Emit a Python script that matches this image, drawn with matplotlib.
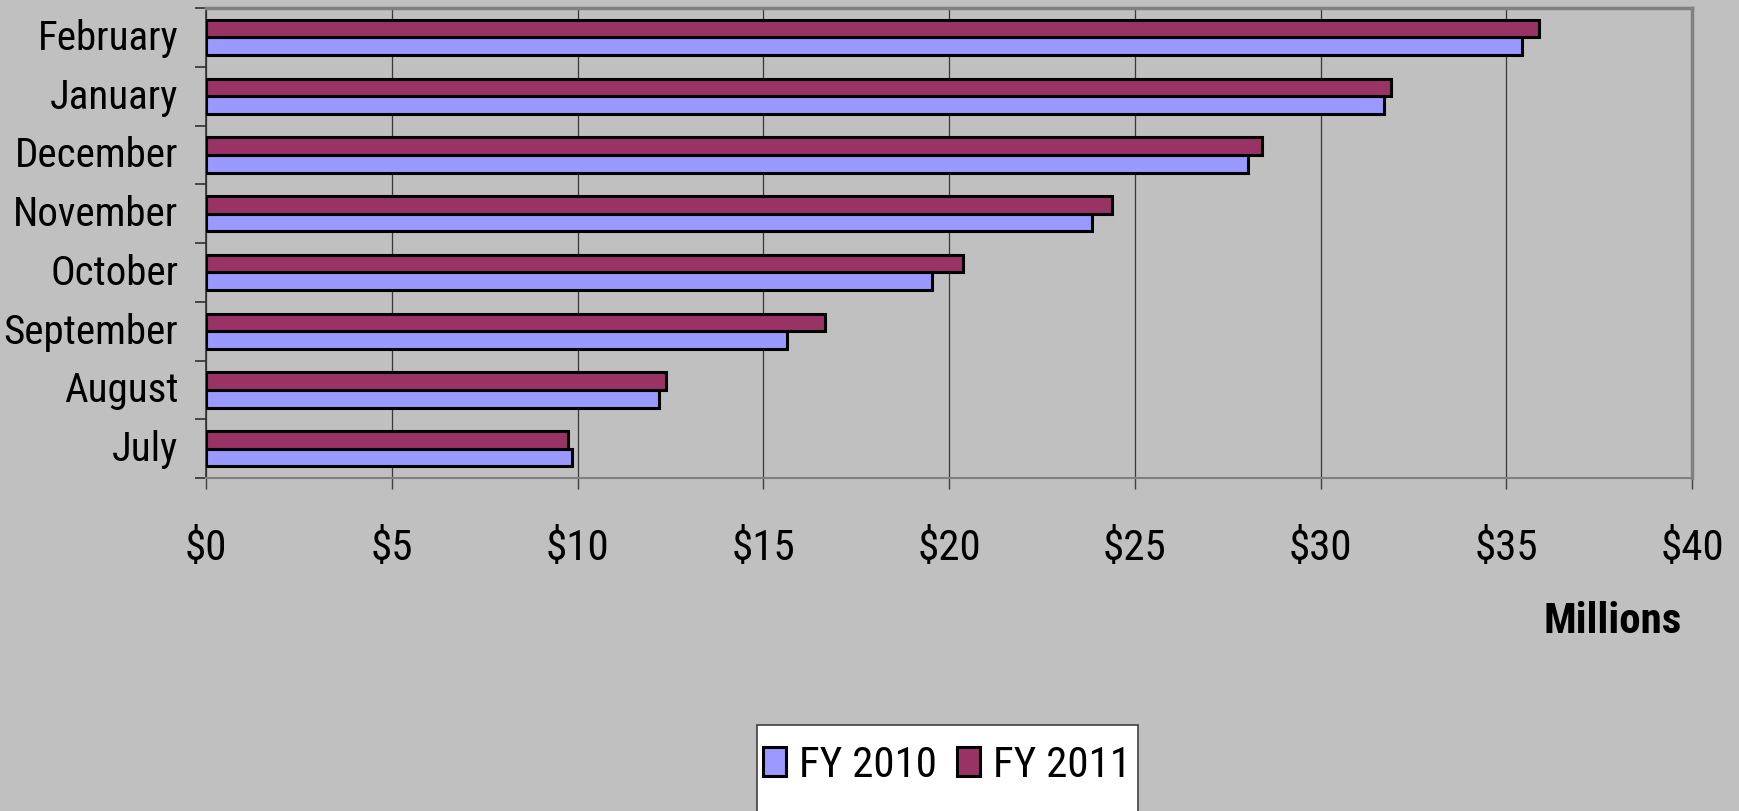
import matplotlib
matplotlib.use("Agg")
import matplotlib.pyplot as plt
from matplotlib import font_manager
from matplotlib.patches import Rectangle
import numpy as np

# datos (millones de dólares)
months = ["July", "August", "September", "October", "November", "December", "January", "February"]
fy2010 = [9.84, 12.2, 15.65, 19.55, 23.84, 28.06, 31.72, 35.43]
fy2011 = [9.75, 12.38, 16.65, 20.38, 24.39, 28.43, 31.89, 35.87]
xticks = [0, 5, 10, 15, 20, 25, 30, 35, 40]

# fuente estrecha tipo Arial Narrow, si existe
names = {f.name for f in font_manager.fontManager.ttflist}
fam = "Liberation Sans"
for cand in ["Liberation Sans Narrow", "Arial Narrow", "Roboto Condensed", "Archivo Narrow"]:
    if cand in names:
        fam = cand
        break
narrow = fam != "Liberation Sans"
fs = 31 if narrow else 26
fs_y = 29.5 if narrow else 25
plt.rcParams["font.family"] = [fam, "DejaVu Sans"]

bg = "#C0C0C0"
fig = plt.figure(figsize=(17.4, 8.12), dpi=100, facecolor=bg)
ax = fig.add_axes([206 / 1740, 1 - 479 / 812, (1692 - 206) / 1740, (479 - 9) / 812])
ax.set_facecolor(bg)

y = np.arange(len(months))
h = 0.3
ax.barh(y - h / 2, fy2010, height=h, color="#9999FF", edgecolor="black", linewidth=2.2, label="FY 2010", zorder=3)
ax.barh(y + h / 2, fy2011, height=h, color="#993366", edgecolor="black", linewidth=2.2, label="FY 2011", zorder=3)

ax.set_xlim(0, 40)
ax.set_ylim(-0.5, len(months) - 0.5)
ax.set_xticks(xticks)
ax.set_xticklabels(["$%d" % v for v in xticks], fontsize=fs)
ax.set_yticks(y)
ax.set_yticklabels(months, fontsize=fs_y, va="center")
ax.set_yticks(np.arange(len(months) + 1) - 0.5, minor=True)
ax.tick_params(axis="y", which="major", length=0, pad=20)
ax.tick_params(axis="y", which="minor", length=8, width=1.2, color="#303030", direction="out")
ax.tick_params(axis="x", length=8, width=1, color="#404040", direction="out", pad=27)

ax.grid(axis="x", color="#383838", linewidth=0.9, zorder=0)
for s in ["top", "right"]:
    ax.spines[s].set_color("#808080")
    ax.spines[s].set_linewidth(2.5)
ax.spines["left"].set_color("#303030")
ax.spines["bottom"].set_color("#808080")
ax.spines["left"].set_linewidth(1.2)
ax.spines["bottom"].set_linewidth(1.5)

fig.text(1682 / 1740, 1 - 622 / 812, "Millions", fontsize=fs, fontweight="bold", ha="right", va="center")

# caja de la leyenda (se sale por abajo como en el original)
fig.patches.append(Rectangle((757 / 1740, -0.02), (1138 - 757) / 1740, 0.02 + 1 - 726 / 812,
                             transform=fig.transFigure, facecolor="white", edgecolor="#404040", linewidth=1.2))
leg = fig.legend(loc="center", bbox_to_anchor=(947 / 1740, 1 - 766 / 812), ncol=2, fontsize=fs,
                 frameon=False, borderaxespad=0, handlelength=0.55, handleheight=0.65,
                 handletextpad=0.3, columnspacing=0.45, borderpad=0.2)

fig.savefig("out.png", dpi=100, facecolor=bg)
